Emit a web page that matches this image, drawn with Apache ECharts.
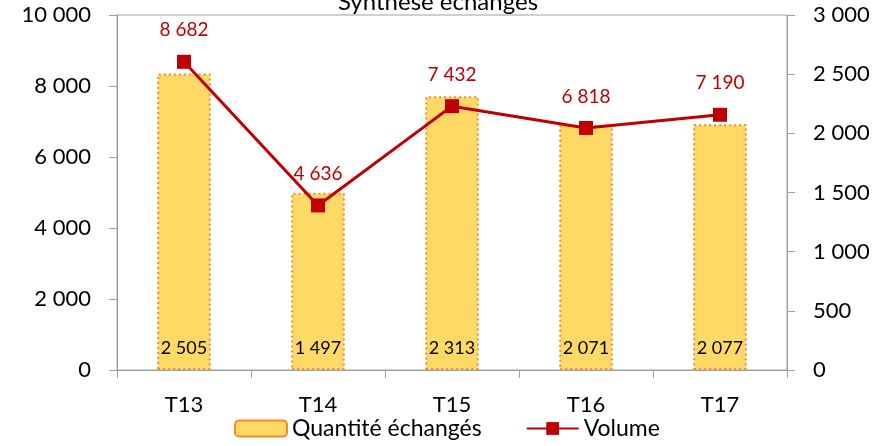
<!DOCTYPE html>
<html>
<head>
<meta charset="utf-8">
<script src="https://cdn.jsdelivr.net/npm/echarts@6/dist/echarts.min.js"></script>
<style>
html, body { margin: 0; padding: 0; background: #fff; }
#main { width: 887px; height: 446px; }
</style>
</head>
<body>
<div id="main"></div>
<script>
// données
const categories = ["T13", "T14", "T15", "T16", "T17"];
const quantite = [2505, 1497, 2313, 2071, 2077];
const volume = [8682, 4636, 7432, 6818, 7190];

const fontName = "Lato";
// séparateur de milliers = espace
function fmt(v) {
	return String(v).replace(/\B(?=(\d{3})+(?!\d))/g, " ");
}

const myChart = echarts.init(document.getElementById("main"));
const option = {
	animation: false,
	textStyle: { fontFamily: fontName },
	title: {
		text: "Synthèse échanges",
		left: 433,
		textAlign: "center",
		top: -15,
		textStyle: { fontSize: 24, fontWeight: "normal", color: "#000", fontFamily: fontName },
	},
	legend: {
		left: 234,
		top: 417,
		padding: 0,
		itemWidth: 52,
		itemHeight: 16,
		itemGap: 44,
		textStyle: { fontSize: 23, color: "#000", fontFamily: fontName },
		data: ["Quantité échangés", "Volume"],
	},
	grid: {
		left: 117,
		right: 100,
		top: 15,
		bottom: 76,
		show: true,
		borderColor: "#a0a0a0",
		borderWidth: 1,
	},
	xAxis: {
		type: "category",
		data: categories,
		axisLine: { lineStyle: { color: "#a0a0a0" } },
		axisTick: { show: true, length: 8, lineStyle: { color: "#a0a0a0" } },
		axisLabel: { color: "#000", fontSize: 22, margin: 24, fontFamily: fontName },
	},
	yAxis: [
		{
			type: "value",
			min: 0,
			max: 10000,
			interval: 2000,
			axisLine: { show: true, lineStyle: { color: "#a0a0a0" } },
			axisTick: { show: true, length: 8, lineStyle: { color: "#a0a0a0" } },
			splitLine: { show: false },
			axisLabel: { color: "#000", fontSize: 22, margin: 26, formatter: fmt, fontFamily: fontName },
		},
		{
			type: "value",
			min: 0,
			max: 3000,
			interval: 500,
			position: "right",
			axisLine: { show: true, lineStyle: { color: "#a0a0a0" } },
			axisTick: { show: true, length: 8, lineStyle: { color: "#a0a0a0" } },
			splitLine: { show: false },
			axisLabel: { color: "#000", fontSize: 22, margin: 26, formatter: fmt, fontFamily: fontName },
		},
	],
	series: [
		{
			name: "Quantité échangés",
			type: "bar",
			yAxisIndex: 1,
			barWidth: "40%",
			data: quantite,
			itemStyle: {
				color: "#FFD966",
				borderColor: "#F28C28",
				borderWidth: 2,
				borderType: [2, 3],
			},
			label: {
				show: true,
				position: "insideBottom",
				distance: 13,
				color: "#000",
				fontSize: 18,
				fontFamily: fontName,
				formatter: (p) => fmt(p.value),
			},
			z: 2,
		},
		{
			name: "Volume",
			type: "line",
			yAxisIndex: 0,
			data: volume,
			symbol: "rect",
			symbolSize: 14,
			lineStyle: { color: "#C00000", width: 3 },
			itemStyle: { color: "#C00000" },
			label: {
				show: true,
				position: "top",
				distance: 15,
				color: "#C00000",
				fontSize: 19,
				fontFamily: fontName,
				formatter: (p) => fmt(p.value),
			},
			z: 5,
		},
	],
};
myChart.setOption(option);
</script>
</body>
</html>
